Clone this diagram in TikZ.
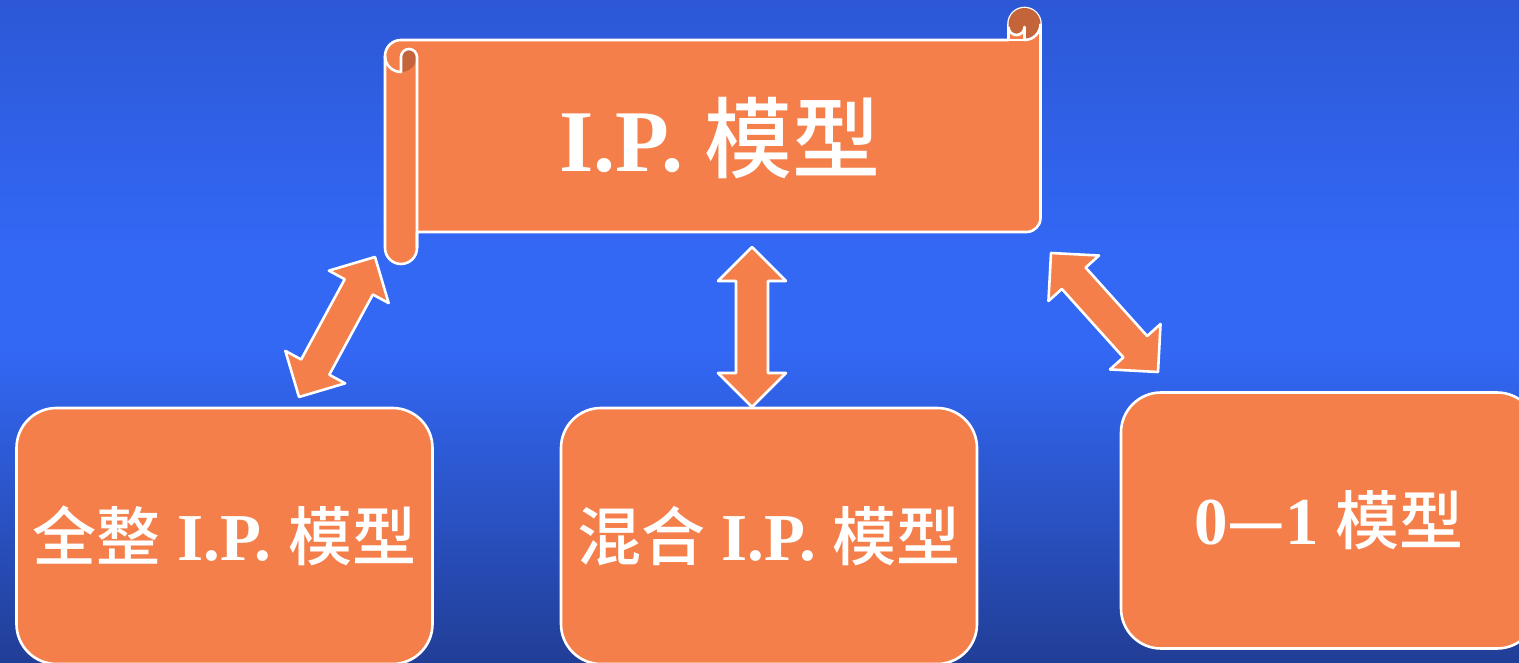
\documentclass[tikz,border=0pt]{standalone}
\usepackage{fontspec}
\setmainfont{Liberation Serif}
\newfontfamily\cjk{Noto Sans CJK SC}[UprightFont={* Medium},BoldFont={* Medium}]
\usetikzlibrary{calc}
\definecolor{bgtop}{RGB}{44,88,214}
\definecolor{bgmid}{RGB}{51,104,245}
\definecolor{bgbot}{RGB}{33,62,150}
\definecolor{orng}{RGB}{245,127,74}
\definecolor{curlc}{RGB}{196,100,58}
\tikzset{
  outl/.style={draw=white, line width=1.3pt, line join=round},
  box/.style={outl, fill=orng, rounded corners=20pt, minimum width=208pt,
    minimum height=128pt, inner sep=0pt, text=white,
    font=\bfseries\fontsize{33.5}{38}\selectfont},
  titletext/.style={text=white, inner sep=0pt, font=\bfseries\fontsize{44}{50}\selectfont},
  arr/.style={outl, fill=orng},
}
\newcommand\cj[1]{{\cjk\fontsize{32}{36}\selectfont #1}}
\newcommand\cjt[1]{{\cjk #1}}
% block double arrow between two named coordinates
\newcommand\dblarrow[3]{%
  \coordinate (#1a) at ($(#2)!17pt!(#3)$);
  \coordinate (#1b) at ($(#3)!17pt!(#2)$);
  \draw[arr] (#2) -- ($(#1a)!17pt!90:(#3)$) -- ($(#1a)!8pt!90:(#3)$)
    -- ($(#1b)!8pt!-90:(#2)$) -- ($(#1b)!17pt!-90:(#2)$) -- (#3)
    -- ($(#1b)!17pt!90:(#2)$) -- ($(#1b)!8pt!90:(#2)$)
    -- ($(#1a)!8pt!-90:(#3)$) -- ($(#1a)!17pt!-90:(#3)$) -- cycle;
}
\begin{document}
\begin{tikzpicture}[x=0.5pt,y=0.5pt]
\useasboundingbox (0,0) rectangle (1519,663);
\clip (0,0) rectangle (1519,663);
% background
\fill[top color=bgtop, bottom color=bgmid] (0,412) rectangle (1519,663);
\fill[bgmid] (0,312) rectangle (1519,414);
\fill[top color=bgmid, bottom color=bgbot] (0,0) rectangle (1519,314);

% scroll
\draw[outl, fill=orng] (417,431) -- (1026.5,431) arc[start angle=-90,end angle=0,radius=14]
  -- (1040.5,639) arc[start angle=0,end angle=180,radius=16] -- (1008.5,623)
  -- (401,623) arc[start angle=90,end angle=180,radius=16] -- (385,415)
  arc[start angle=180,end angle=360,radius=16] -- cycle;
% right curl
\fill[curlc] (1024.5,636) -- (1024.5,623) arc[start angle=-90,end angle=180,radius=16]
  -- (1008.5,636) arc[start angle=180,end angle=360,radius=8] -- cycle;
\draw[outl] (1008.5,636) arc[start angle=180,end angle=360,radius=8] -- (1024.5,623)
  arc[start angle=-90,end angle=0,radius=16];
\draw[outl] (1008.5,623) -- (1024.5,623);
% left curl
\fill[curlc] (401,591) -- (401,606) arc[start angle=180,end angle=0,radius=8]
  -- (417,607) arc[start angle=0,end angle=-90,radius=16] -- cycle;
\draw[outl] (385,607) arc[start angle=180,end angle=270,radius=16] -- (401,606)
  arc[start angle=180,end angle=0,radius=8] -- (417,415);
\node[titletext] (ip) at (720,525) {I.P. \cjt{模型}};

% arrows
\coordinate (la1) at (299,266);
\coordinate (la2) at (375,406);
\coordinate (ma1) at (752,256);
\coordinate (ma2) at (752,416);
\coordinate (ra1) at (1158,291);
\coordinate (ra2) at (1051,410);
\dblarrow{L}{la1}{la2}
\dblarrow{M}{ma1}{ma2}
\dblarrow{R}{ra1}{ra2}

% bottom boxes
\node[box] (b1) at (224.5,127) {\cj{全整} I.P. \cj{模型}};
\node[box] (b2) at (769,127) {\cj{混合} I.P. \cj{模型}};
\node[box] (b3) at (1329,142.5) {0\cj{—}1 \cj{模型}};
\end{tikzpicture}
\end{document}
